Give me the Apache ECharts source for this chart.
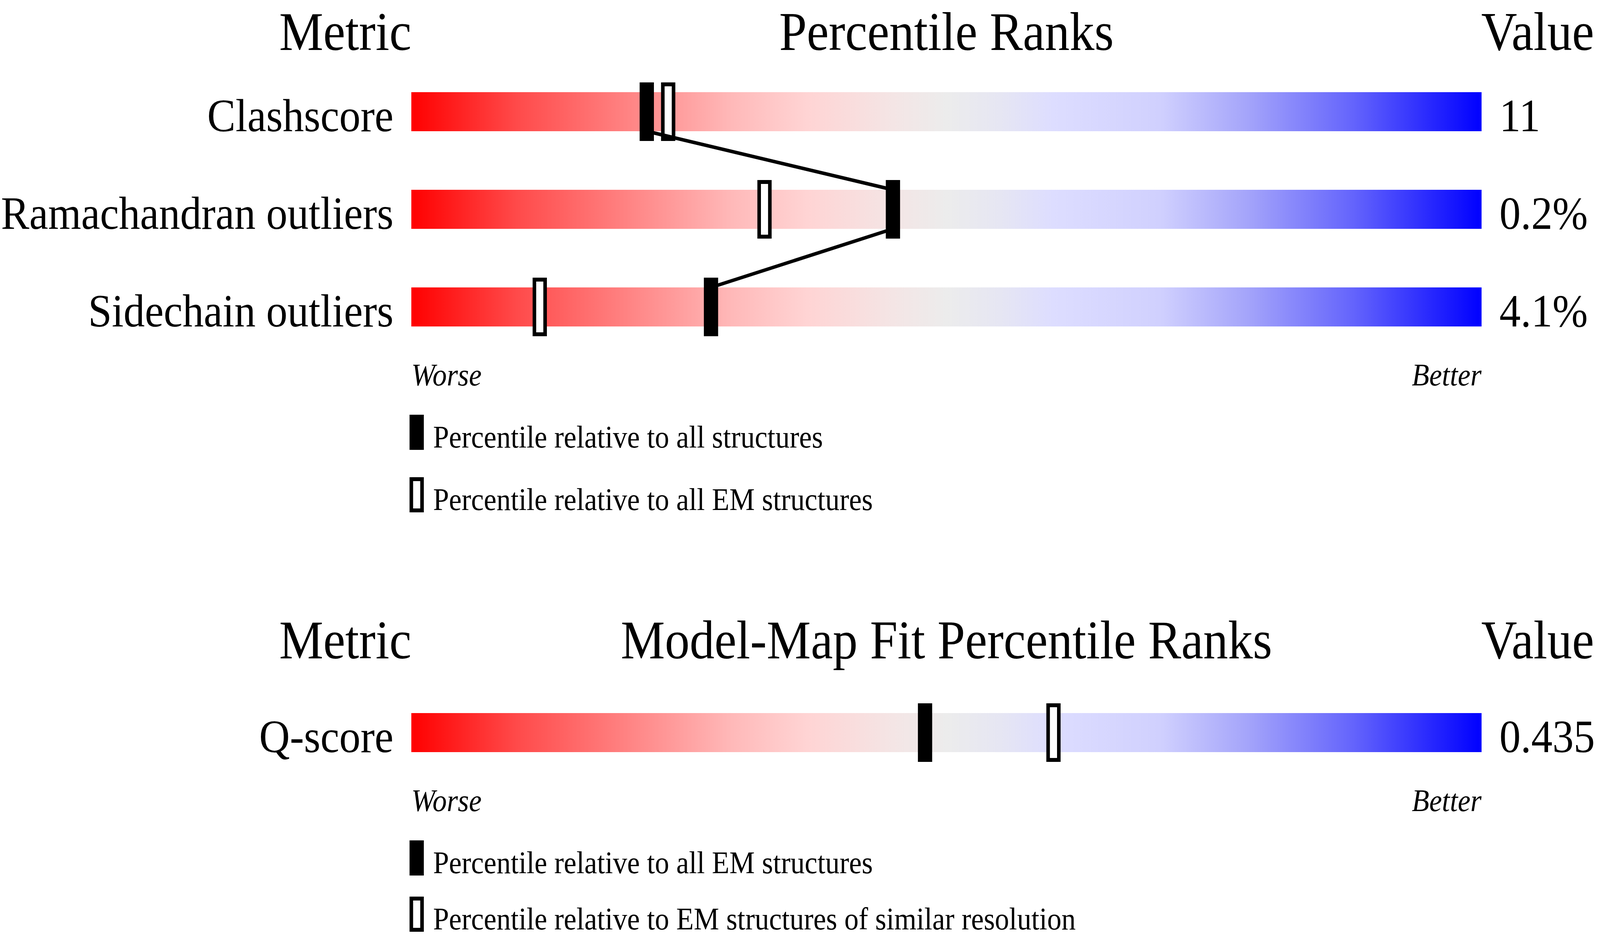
<!DOCTYPE html>
<html>
<head>
<meta charset="utf-8">
<script src="https://cdn.jsdelivr.net/npm/echarts@6/dist/echarts.min.js"></script>
<style>
html, body { margin: 0; padding: 0; background: #ffffff; overflow: hidden; width: 100%; height: 100%; }
#chart { width: 4485px; height: 2402px; transform-origin: 0 0; }
</style>
</head>
<body>
<div id="chart"></div>
<script>
// ---------------- data ----------------
const geometryTitle = 'Percentile Ranks';
const geometryMetrics = ['Clashscore', 'Ramachandran outliers', 'Sidechain outliers'];
const geometryValues = ['11', '0.2%', '4.1%'];
const geometryPctAll = [22, 45, 28];      // filled marker: relative to all structures
const geometryPctEM = [24, 33, 12];       // open marker: relative to all EM structures
const geometryLegend = ['Percentile relative to all structures', 'Percentile relative to all EM structures'];

const fitTitle = 'Model-Map Fit Percentile Ranks';
const fitMetrics = ['Q-score'];
const fitValues = ['0.435'];
const fitPctAllEM = [48];                 // filled marker: relative to all EM structures
const fitPctSimilarRes = [60];            // open marker: relative to EM structures of similar resolution
const fitLegend = ['Percentile relative to all EM structures', 'Percentile relative to EM structures of similar resolution'];

const headerLeft = 'Metric';
const headerRight = 'Value';
const scaleWorse = 'Worse';
const scaleBetter = 'Better';

// ---------------- fit the 4485x2402 design into the actual window ----------------
const el = document.getElementById('chart');
const DW = 4485, DH = 2402;
const SX = Math.min(1, (window.innerWidth || DW) / DW);
const SY = Math.min(1, (window.innerHeight || DH) / DH);
el.style.transform = 'scale(' + SX + ',' + SY + ')';

// ---------------- layout / style (reference pixel units) ----------------
const FONT = '"Liberation Serif", "Times New Roman", serif';
const LEFT = 1153, BAR_W = 3000, ROW_H = 250, BAR_H = 100;
const BAR_FRAC = BAR_H / ROW_H;
const MARK_W = 40, MARK_H = 150, OPEN_BORDER = 10, LINE_W = 9;
const FS_HEAD = 139, FS_ROW = 119, FS_SMALL = 80;
const MID = 0.3375;   // baseline offset of the em-box middle
const ASC = 0.9, DESC = 0.22;
function midY(baseline, fs) { return baseline - MID * fs; }
function font(fs, italic) { return (italic ? 'italic ' : '') + fs + 'px ' + FONT; }

const gradientStops = [
  { offset: 0.00, color: 'rgb(255,0,0)' },
  { offset: 0.10, color: 'rgb(255,75,75)' },
  { offset: 0.20, color: 'rgb(255,130,130)' },
  { offset: 0.30, color: 'rgb(255,185,185)' },
  { offset: 0.37, color: 'rgb(255,212,212)' },
  { offset: 0.45, color: 'rgb(244,229,229)' },
  { offset: 0.50, color: 'rgb(236,236,236)' },
  { offset: 0.55, color: 'rgb(230,230,243)' },
  { offset: 0.60, color: 'rgb(221,221,255)' },
  { offset: 0.70, color: 'rgb(208,208,254)' },
  { offset: 0.78, color: 'rgb(165,165,250)' },
  { offset: 0.88, color: 'rgb(100,100,252)' },
  { offset: 1.00, color: 'rgb(0,0,255)' }
];

const blocks = [
  { title: geometryTitle, metrics: geometryMetrics, values: geometryValues, filled: geometryPctAll, open: geometryPctEM, legend: geometryLegend, top: 161 },
  { title: fitTitle, metrics: fitMetrics, values: fitValues, filled: fitPctAllEM, open: fitPctSimilarRes, legend: fitLegend, top: 1751 }
];

const grids = [], xAxes = [], yAxes = [], series = [], graphics = [];

blocks.forEach(function (b, k) {
  const n = b.metrics.length;
  grids.push({ left: LEFT, width: BAR_W, top: b.top, height: n * ROW_H, containLabel: false });
  xAxes.push({ gridIndex: k, type: 'value', min: 0, max: 100, show: false });
  yAxes.push({ gridIndex: k, type: 'value', min: -0.5, max: n - 0.5, inverse: true, show: false });

  // gradient bars with metric names and values
  series.push({
    type: 'custom', xAxisIndex: k, yAxisIndex: k, z: 1, silent: true,
    data: b.metrics.map(function (m, i) { return [0, i]; }),
    renderItem: function (params, api) {
      const i = api.value(1);
      const p0 = api.coord([0, i]);
      const p1 = api.coord([100, i]);
      const h = api.size([0, BAR_FRAC])[1];
      const bottom = p0[1] + h / 2;
      return {
        type: 'group',
        children: [
          { type: 'rect', shape: { x: p0[0], y: p0[1] - h / 2, width: p1[0] - p0[0], height: h },
            style: { fill: new echarts.graphic.LinearGradient(0, 0, 1, 0, gradientStops) } },
          { type: 'text', style: { text: b.metrics[i], x: p0[0] - 50, y: midY(bottom, FS_ROW), align: 'right', verticalAlign: 'middle', font: font(FS_ROW), fill: '#000' } },
          { type: 'text', style: { text: b.values[i], x: p1[0] + 50, y: midY(bottom, FS_ROW), align: 'left', verticalAlign: 'middle', font: font(FS_ROW), fill: '#000' } }
        ]
      };
    }
  });

  // open markers (outer box MARK_W x MARK_H with a thick black border)
  series.push({
    type: 'custom', xAxisIndex: k, yAxisIndex: k, z: 2, silent: true,
    data: b.open.map(function (p, i) { return [p, i]; }),
    renderItem: function (params, api) {
      const c = api.coord([api.value(0), api.value(1)]);
      const w = MARK_W - OPEN_BORDER, h = MARK_H - OPEN_BORDER;
      return { type: 'rect', shape: { x: c[0] - w / 2, y: c[1] - h / 2, width: w, height: h },
        style: { fill: '#fff', stroke: '#000', lineWidth: OPEN_BORDER } };
    }
  });
  // filled markers
  series.push({
    type: 'custom', xAxisIndex: k, yAxisIndex: k, z: 3, silent: true,
    data: b.filled.map(function (p, i) { return [p, i]; }),
    renderItem: function (params, api) {
      const c = api.coord([api.value(0), api.value(1)]);
      return { type: 'rect', shape: { x: c[0] - MARK_W / 2, y: c[1] - MARK_H / 2, width: MARK_W, height: MARK_H },
        style: { fill: '#000' } };
    }
  });
  // connecting line between filled markers (bar bottom -> next bar top)
  if (n > 1) {
    const pts = [];
    b.filled.forEach(function (p, i) {
      if (i > 0) pts.push([p, i - BAR_FRAC / 2]);
      if (i < n - 1) pts.push([p, i + BAR_FRAC / 2]);
    });
    series.push({
      type: 'line', xAxisIndex: k, yAxisIndex: k, z: 4, silent: true,
      symbol: 'none', lineStyle: { color: '#000', width: LINE_W },
      data: pts
    });
  }

  // headers (kept fully inside the page)
  const firstTop = b.top + (ROW_H - BAR_H) / 2;
  const lastBottom = b.top + n * ROW_H - (ROW_H - BAR_H) / 2;
  const hb = Math.max(firstTop - 140, Math.ceil(ASC * FS_HEAD) + 2);
  graphics.push({ type: 'text', x: LEFT, y: midY(hb, FS_HEAD), style: { text: headerLeft, font: font(FS_HEAD), fill: '#000', align: 'right', verticalAlign: 'middle' } });
  graphics.push({ type: 'text', x: LEFT + BAR_W / 2, y: midY(hb, FS_HEAD), style: { text: b.title, font: font(FS_HEAD), fill: '#000', align: 'center', verticalAlign: 'middle' } });
  graphics.push({ type: 'text', x: LEFT + BAR_W - 1, y: midY(hb, FS_HEAD), style: { text: headerRight, font: font(FS_HEAD), fill: '#000', align: 'left', verticalAlign: 'middle' } });
  // Worse / Better
  const wb = lastBottom + 151;
  graphics.push({ type: 'text', x: LEFT, y: midY(wb, FS_SMALL), style: { text: scaleWorse, font: font(FS_SMALL, true), fill: '#000', align: 'left', verticalAlign: 'middle' } });
  graphics.push({ type: 'text', x: LEFT + BAR_W, y: midY(wb, FS_SMALL), style: { text: scaleBetter, font: font(FS_SMALL, true), fill: '#000', align: 'right', verticalAlign: 'middle' } });
  // legend (kept fully inside the page)
  b.legend.forEach(function (txt, j) {
    const top = Math.min(lastBottom + 226 + j * 160, DH - 84 - Math.ceil(DESC * FS_SMALL) - 4);
    if (j === 0) {
      graphics.push({ type: 'rect', shape: { x: LEFT - 5, y: top, width: 40, height: 90 }, style: { fill: '#000' } });
    } else {
      graphics.push({ type: 'rect', shape: { x: LEFT, y: top + 5, width: 30, height: 80 }, style: { fill: '#fff', stroke: '#000', lineWidth: 10 } });
    }
    graphics.push({ type: 'text', x: LEFT + 61, y: midY(top + 84, FS_SMALL), style: { text: txt, font: font(FS_SMALL), fill: '#000', align: 'left', verticalAlign: 'middle' } });
  });
});

const chart = echarts.init(el, null, { renderer: 'svg', width: DW, height: DH });
chart.setOption({
  animation: false,
  backgroundColor: '#ffffff',
  grid: grids,
  xAxis: xAxes,
  yAxis: yAxes,
  series: series,
  graphic: graphics
});
</script>
</body>
</html>
